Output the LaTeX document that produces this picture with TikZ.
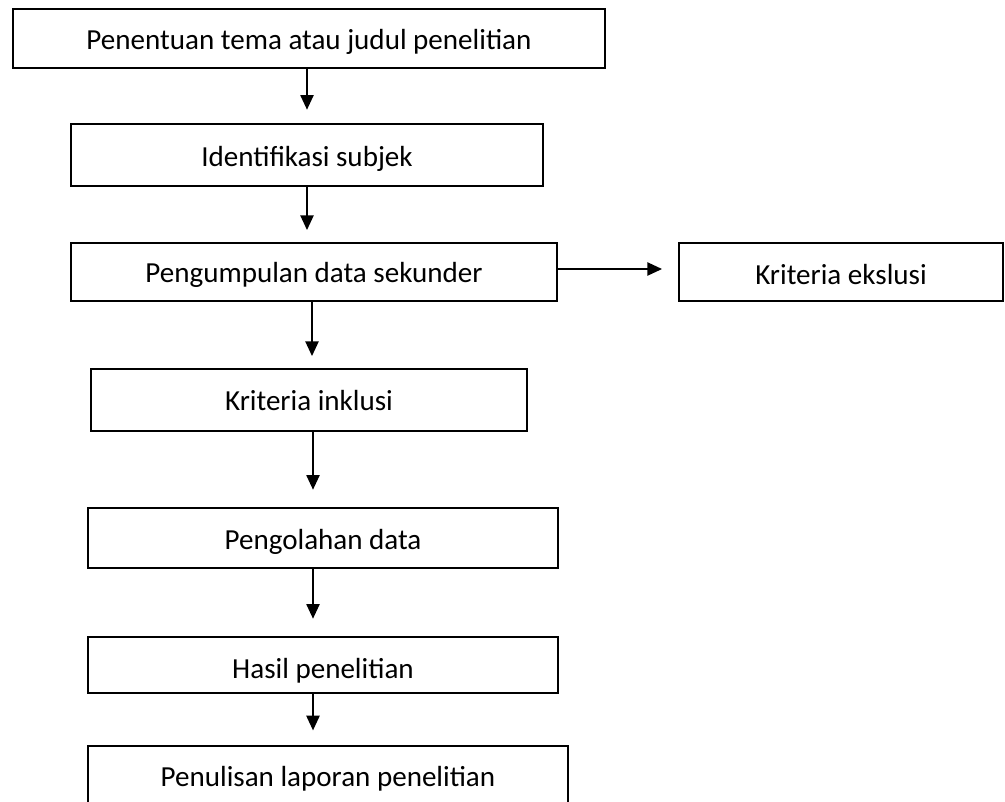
\documentclass[tikz,border=0pt]{standalone}
\usepackage{fontspec}
\setmainfont{Carlito}
\usetikzlibrary{arrows.meta}
\newcommand{\lowered}[2]{\raisebox{-#1}[0pt][0pt]{#2}}
\begin{document}
\begin{tikzpicture}[x=0.75pt,y=-0.75pt,
  box/.style={draw=black,line width=1.5pt,rectangle,inner sep=0pt,
    font=\fontsize{21.8}{26}\selectfont,text=black},
  arr/.style={draw=black,line width=1pt,
    -{Triangle[length=11pt,width=10pt]}}]
\useasboundingbox (0,0) rectangle (1005,801);
% boxes: centre x, centre y, width, height (px)
\node[box,minimum width=592*0.75pt,minimum height=59*0.75pt] (b1) at (309,38.5) {\lowered{8.5pt}{Penentuan tema atau judul penelitian}};
\node[box,minimum width=472*0.75pt,minimum height=62*0.75pt] (b2) at (307,155) {\lowered{8.5pt}{Identifikasi subjek}};
\node[box,minimum width=486*0.75pt,minimum height=58*0.75pt] (b3) at (314,272) {\lowered{8pt}{Pengumpulan data sekunder}};
\node[box,minimum width=324*0.75pt,minimum height=58*0.75pt] (b4) at (841,272) {\lowered{9pt}{Kriteria ekslusi}};
\node[box,minimum width=436*0.75pt,minimum height=62*0.75pt] (b5) at (309,400) {\lowered{8pt}{Kriteria inklusi}};
\node[box,minimum width=470*0.75pt,minimum height=60*0.75pt] (b6) at (323,538) {\lowered{8.5pt}{Pengolahan data}};
\node[box,minimum width=470*0.75pt,minimum height=56*0.75pt] (b7) at (323,665) {\lowered{10pt}{Hasil penelitian}};
\node[box,minimum width=480*0.75pt,minimum height=76*0.75pt,anchor=north] (b8) at (328,745) {\lowered{2pt}{Penulisan laporan penelitian}};
% arrow columns
\coordinate (c1) at (307,0);
\coordinate (c2) at (312,0);
\coordinate (c3) at (313,0);
\coordinate (r1) at (0,269);
\draw[arr,shorten >=10pt] (b1.south -| c1) -- (b2.north -| c1);
\draw[arr,shorten >=9pt] (b2.south -| c1) -- (b3.north -| c1);
\draw[arr,shorten >=9pt] (b3.south -| c2) -- (b5.north -| c2);
\draw[arr,shorten >=12pt] (b3.east |- r1) -- (b4.west |- r1);
\draw[arr,shorten >=13pt] (b5.south -| c3) -- (b6.north -| c3);
\draw[arr,shorten >=13pt] (b6.south -| c3) -- (b7.north -| c3);
\draw[arr,shorten >=11pt] (b7.south -| c3) -- (b8.north -| c3);
\end{tikzpicture}
\end{document}
